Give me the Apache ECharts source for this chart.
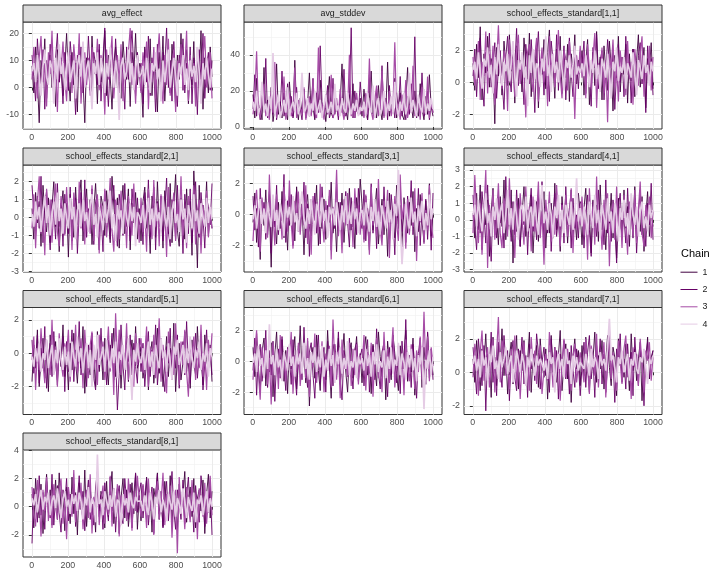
<!DOCTYPE html>
<html><head><meta charset="utf-8">
<script src="https://cdn.jsdelivr.net/npm/echarts@6/dist/echarts.min.js"></script>
<style>html,body{margin:0;padding:0;background:#fff}#c{width:720px;height:576px}</style>
</head><body><div id="c"></div>
<script>
const params = ['avg_effect','avg_stddev','school_effects_standard[1,1]','school_effects_standard[2,1]','school_effects_standard[3,1]','school_effects_standard[4,1]','school_effects_standard[5,1]','school_effects_standard[6,1]','school_effects_standard[7,1]','school_effects_standard[8,1]'];
const chains = ['1','2','3','4'];

const avg_effect = [
[8,-2,15,3,-13,10,5,18,-4,9,12,0,6,-7,14,2,11,-3,7,20,4,-5,13,1,9,-9,16,6,3,-13,11,8,-1,19,5,10,-6,14,2,7,21,-3,12,4,-8,9,15,0,6,-4,17,8,3,11,-7,13,5,20,1,9,
 4,-11,15,7,0,18,-3,10,6,-9,13,2,19,-5,8,11,-2,16,5,-7,12,3,20,-1,9,14,-6,7,1,17,-4,10,5,21,-8,11,6,-2,15,4],
[12,4,-5,18,7,1,14,-8,10,3,16,6,-3,11,20,2,8,-6,13,5,-1,17,9,4,-10,12,7,15,-2,10,3,19,6,-4,13,8,1,16,-5,11,22,4,-7,9,14,2,18,6,-2,10,5,-8,15,3,12,21,7,-3,13,6,
 9,-6,14,2,19,-3,11,6,-9,16,4,-1,13,8,22,0,10,-5,17,3,-7,12,7,18,-2,9,1,15,-6,11,5,-10,14,3,20,-4,8,13,-1,10],
[3,15,7,-4,11,19,2,9,-7,13,5,21,0,8,-9,14,6,17,3,-5,10,12,-2,16,7,4,20,-6,9,13,1,11,-3,15,8,5,18,-1,12,6,-10,14,3,10,19,-4,7,12,2,16,-5,9,4,13,22,1,8,-6,11,5,
 -2,13,6,17,-8,9,2,15,-4,11,20,5,-6,12,1,18,-3,8,14,-9,10,4,16,-1,7,21,-5,12,3,9,-7,15,6,-2,11,19,0,8,13,-4],
[6,9,2,12,5,-3,8,14,4,1,10,7,-6,11,3,16,5,9,-1,7,13,2,6,10,-4,8,12,4,17,0,7,10,3,-8,9,5,13,1,11,6,-2,9,4,15,7,0,10,5,-12,8,11,3,6,14,2,9,-1,7,12,4,
 5,8,1,11,4,-2,9,6,13,3,7,-5,10,2,8,14,0,6,11,4,-3,9,5,12,1,7,-1,10,4,8,2,15,6,-6,9,3,11,5,0,7]];
const avg_stddev = [
[18,5,27,8,12,4,33,9,15,6,22,3,11,35,7,14,5,19,9,4,25,12,6,37,10,4,16,8,21,5,13,30,7,11,4,17,9,26,6,12,3,15,28,8,5,20,10,6,14,35,7,11,4,18,9,24,5,13,8,16,
 6,21,9,4,16,31,7,12,5,23,10,4,18,8,36,6,13,9,27,5,11,19,7,4,15,33,8,12,5,20,9,6,24,10,4,17,7,29,11,6],
[10,29,6,14,4,20,9,38,5,12,18,7,26,4,15,9,31,6,11,24,8,17,5,13,22,7,10,4,19,9,16,6,12,27,5,19,8,45,14,6,11,23,5,9,27,7,13,4,18,8,32,6,10,17,55,5,20,9,7,25,
 12,6,18,4,29,9,14,5,21,7,11,34,6,16,4,23,8,13,5,19,9,28,6,12,4,17,7,24,10,50,5,15,8,30,6,11,20,4,13,8],
[7,16,42,9,5,13,24,6,11,4,20,8,36,5,14,10,7,28,4,12,19,6,9,33,5,15,11,7,22,4,10,17,6,26,9,5,44,8,13,4,18,7,11,29,5,9,16,6,21,10,4,14,8,40,6,12,5,19,9,7,
 12,5,19,7,38,9,4,15,23,6,10,31,5,14,8,20,6,11,47,7,13,4,18,9,26,5,12,8,34,6,10,16,4,22,9,7,28,5,14,8],
[14,9,20,7,11,25,8,13,6,17,10,41,7,12,18,5,9,15,8,22,6,11,14,9,19,7,12,30,8,10,16,6,13,9,20,7,11,15,5,12,18,8,10,14,7,24,9,12,6,16,10,8,19,11,7,13,9,15,6,11,
 9,14,6,19,11,8,23,5,12,16,7,10,20,6,13,9,17,8,25,11,6,14,9,19,7,12,30,8,15,10,6,18,11,8,21,7,13,9,16,10]];
const school_1 = [
[1.2,-0.5,2.4,0.3,3.5,-1.1,1.8,0.6,2.9,-0.3,1.5,0.9,-2.6,2.2,0.4,1.7,-0.8,2.6,1.0,-0.2,3.0,0.7,1.9,-1.3,2.3,0.1,1.4,-0.6,2.8,1.1,0.2,3.1,-0.9,1.6,0.8,2.5,-1.6,1.3,0.5,2.7,-0.4,1.9,3.3,0.0,1.2,-1.0,2.1,0.6,2.9,-0.7,1.5,0.3,2.4,-1.2,1.8,0.9,3.0,-0.1,1.4,0.7,
 2.0,-0.8,1.3,2.7,-1.4,0.6,1.9,-0.2,3.2,0.4,1.6,-1.1,2.3,0.8,-0.5,2.6,1.0,-1.8,1.7,0.3,2.9,-0.6,1.2,0.5,2.4,-1.3,1.8,0.1,2.1,-0.9,1.4,3.0,-0.3,0.9,2.2,-1.6,1.5,0.7,2.5,-0.4],
[0.4,2.1,-0.9,1.5,2.8,0.2,-1.5,1.9,0.7,3.1,-0.3,1.2,2.5,-1.0,0.9,2.0,0.1,-1.7,1.6,2.9,0.5,-0.6,2.2,1.0,3.4,-0.2,1.3,0.6,-1.4,2.4,1.1,-0.1,2.7,0.8,-1.9,1.5,3.2,0.3,1.8,-0.8,2.0,0.9,-1.2,2.6,1.4,0.0,3.0,-0.5,1.7,0.4,2.3,-1.1,1.0,2.8,0.6,-0.9,2.1,1.3,-0.4,1.9,
 1.1,2.6,-0.7,1.8,0.3,-1.5,2.2,0.9,3.0,-0.4,1.4,2.0,-1.1,0.6,2.7,1.2,-0.2,1.9,-1.7,0.8,2.4,0.0,1.6,-0.9,2.9,0.5,1.3,-1.3,2.1,0.7,-0.5,1.7,2.5,-0.1,1.0,-1.9,2.3,0.4,1.5,-0.8],
[1.6,-0.2,0.9,2.6,-1.1,1.3,0.4,3.2,-0.7,1.8,0.2,2.3,-1.4,1.1,3.6,0.6,-0.4,2.0,1.4,-1.8,2.7,0.8,1.5,-0.9,2.1,3.0,-0.1,1.2,0.5,-2.2,1.9,2.4,0.3,-0.6,1.6,2.8,-1.2,0.9,2.2,0.0,1.4,-1.5,2.9,0.7,1.8,-0.3,1.1,3.3,0.4,-1.0,2.0,1.5,-0.5,2.6,0.8,1.2,-2.3,1.7,0.5,2.3,
 0.3,1.9,-1.0,2.4,0.8,-0.4,1.6,3.1,-1.6,1.2,0.5,2.2,-0.7,1.4,-2.5,1.8,0.9,2.7,-0.3,1.1,-1.2,2.0,0.6,1.5,-0.8,2.6,0.2,1.3,-1.4,2.1,0.7,-0.2,1.7,2.9,-0.9,1.0,0.4,2.3,-0.5,1.6],
[0.8,1.3,0.2,1.9,0.6,-0.4,1.5,1.0,2.2,0.3,1.1,-0.7,1.6,0.5,2.4,0.9,-0.2,1.3,0.7,1.8,0.1,1.2,2.6,0.4,-0.9,1.4,0.8,1.9,0.3,1.0,-1.5,1.7,0.6,2.1,0.2,1.2,0.9,-0.3,1.5,0.7,2.9,0.4,1.1,-0.6,1.8,0.6,1.3,0.0,2.0,0.8,-0.5,1.4,0.9,1.7,0.3,1.1,2.3,0.5,1.0,0.6,
 1.2,0.4,1.7,0.8,-0.3,1.4,0.6,2.0,0.2,1.1,-0.6,1.5,0.9,0.3,1.8,0.5,-1.0,1.3,0.7,2.2,0.1,1.0,0.6,1.6,-0.4,1.2,0.8,0.3,1.9,0.5,-0.8,1.4,0.9,0.2,1.7,0.6,1.1,-0.2,1.3,0.7]];
const school_2 = [
[0.5,-1.2,1.4,-0.3,0.9,-1.6,1.8,0.2,-0.8,1.1,-1.4,0.6,2.0,-0.5,1.2,-1.9,0.4,1.5,-0.9,0.8,-2.2,1.3,0.1,-1.1,1.7,-0.4,0.9,2.1,-1.3,0.3,1.6,-0.7,1.0,-1.5,0.5,1.9,-0.2,-1.8,1.2,0.6,-1.0,1.5,0.0,-1.4,2.3,0.7,-0.6,1.1,-1.7,0.4,1.8,-0.9,0.2,1.6,-1.8,0.8,-0.3,1.4,-1.2,0.5,
 -1.3,0.9,1.7,-0.6,0.3,-2.0,1.2,0.5,-1.1,2.0,-0.4,0.8,-1.7,1.5,0.1,-0.9,1.9,-1.4,0.6,2.4,-0.7,-1.6,1.1,0.2,-1.2,1.6,-0.3,0.9,-2.1,2.6,0.4,-2.8,1.8,-1.5,0.7,-0.2,2.0,-1.0,0.5,-0.6],
[1.8,0.3,-1.0,1.2,-0.6,2.3,-1.4,0.7,1.5,-0.2,-1.8,1.0,0.4,-1.2,1.9,-0.5,0.8,-1.6,1.3,0.1,-0.9,1.7,-1.3,0.6,1.1,-2.0,0.2,1.4,-0.7,2.1,-1.1,0.5,-0.3,1.6,-1.5,0.9,1.2,-0.8,0.3,-1.9,1.5,0.0,1.0,-1.2,0.7,1.8,-0.4,-1.6,1.3,0.4,-1.0,1.9,-0.5,0.8,-1.3,1.6,0.2,-0.9,1.1,-0.4,
 0.6,-1.5,1.4,-0.3,2.1,-1.1,0.2,1.7,-1.8,0.9,-0.5,1.2,-1.3,0.4,2.2,-0.8,-1.6,1.0,0.3,-1.2,1.8,-0.6,0.7,-2.0,1.3,0.1,-0.9,1.6,-1.4,0.5,2.0,-0.7,-1.1,1.4,0.0,-1.7,1.1,0.6,-0.4,1.9],
[-0.6,1.3,-1.7,0.8,2.3,-0.9,0.4,-2.1,1.6,-0.3,1.0,-1.4,0.6,1.9,-0.8,-1.6,1.2,0.2,-1.0,1.7,-0.4,0.9,-1.8,1.4,0.3,-1.2,2.0,-0.6,0.7,-1.5,1.1,0.0,-0.9,1.8,-1.3,0.5,1.3,-2.0,0.8,-0.5,1.6,-1.1,0.3,2.2,-0.7,-1.9,1.0,0.4,-1.2,1.5,-0.3,0.7,-1.7,1.2,0.1,-1.0,1.9,-0.6,0.5,-1.4,
 1.1,-0.8,0.4,-1.9,1.6,0.2,-1.2,2.1,-0.5,0.8,-1.6,1.3,-0.2,0.6,-2.2,1.7,-0.9,0.3,1.4,-1.3,0.9,-0.4,2.3,-1.0,0.5,-1.7,1.2,0.0,-0.7,1.8,-1.5,0.4,1.0,-2.0,0.7,-0.3,1.5,-1.1,0.2,-0.6],
[0.2,-0.5,0.9,-0.1,0.6,-0.8,0.4,1.2,-0.3,0.7,-1.0,0.3,0.9,-0.4,1.4,-0.2,0.5,-0.9,0.8,0.0,-0.6,1.1,-0.1,0.6,-1.2,0.4,0.8,-0.5,1.0,-0.2,0.3,-0.8,0.7,1.3,-0.4,0.2,-1.1,0.6,0.1,-0.7,0.9,-0.3,0.5,1.5,-0.6,0.2,-1.3,0.7,-0.1,0.4,-0.9,1.0,0.0,-0.5,0.8,-0.2,0.6,-1.6,0.3,0.1,
 -0.3,0.7,-0.6,0.2,1.1,-0.4,0.5,-1.0,0.8,-0.2,0.3,-0.7,1.2,0.0,-0.5,0.6,-1.2,0.4,0.9,-0.3,0.2,-0.8,1.0,-0.1,0.5,-1.4,0.7,0.1,-0.6,1.3,-0.2,0.4,-0.9,0.8,0.0,-0.5,1.1,-0.3,0.6,-0.1]];
const school_3 = [
[-0.5,1.4,-1.8,0.3,-2.9,0.9,-0.7,1.6,-1.3,0.2,-3.4,1.1,-0.4,-1.9,0.8,-0.9,1.5,-1.5,0.1,-2.3,1.2,-0.6,0.5,-1.7,1.8,-0.2,-1.1,0.7,-2.6,0.4,1.3,-0.8,-1.4,0.9,-0.3,1.9,-2.0,0.2,-0.9,1.0,-1.6,0.6,-0.5,2.1,-1.2,0.0,-2.4,0.8,-0.7,1.4,-1.8,0.3,-0.4,1.7,-1.0,0.5,-2.2,1.1,-0.6,2.3,
 0.7,-1.6,1.2,-0.5,-2.3,0.9,-1.0,0.3,1.7,-1.9,-0.2,1.0,-1.3,0.5,-2.7,1.4,-0.6,0.2,-1.5,1.9,-0.9,0.6,-2.1,1.1,-0.3,-1.2,0.8,-0.7,1.5,-2.4,0.4,-1.1,1.3,-0.4,-1.8,0.9,-0.8,2.0,-1.4,0.1],
[1.2,-1.0,0.4,-2.1,1.7,-0.5,0.8,-1.6,0.2,1.5,-2.5,0.6,-0.8,1.9,-1.3,0.3,-0.4,2.6,-1.8,0.9,-0.7,1.3,-2.0,0.1,1.6,-1.1,0.5,-0.3,2.1,-1.5,0.7,-2.7,1.0,-0.6,1.4,-1.2,0.3,-1.9,1.8,-0.2,0.6,-1.4,1.2,-2.3,0.4,-0.9,2.0,-1.0,0.8,-1.7,0.2,1.5,-0.5,-2.1,1.1,-0.8,0.5,-1.3,1.7,-0.4,
 -0.9,1.6,-1.7,0.4,-0.5,2.0,-1.2,0.7,-2.2,1.1,-0.3,-1.5,1.8,-0.8,0.5,-1.9,1.3,-0.1,-2.6,0.9,-0.6,1.5,-1.1,0.2,-1.8,1.2,-0.4,2.2,-1.3,0.6,-0.9,1.7,-2.0,0.3,-0.7,1.0,-1.6,0.8,-2.3,1.4],
[-1.7,0.5,1.6,-0.8,-2.4,1.1,-0.3,0.7,-1.5,2.6,-0.6,0.2,-2.0,1.3,-0.9,0.4,-1.6,1.8,0.0,-1.1,2.2,-0.5,-2.2,0.9,-0.2,1.5,-1.3,0.6,-0.7,1.9,-1.9,0.3,-2.6,1.2,-0.4,0.8,-1.2,2.0,-0.1,-1.8,0.9,-0.6,1.6,-2.9,0.5,-0.3,2.9,-1.4,0.1,-2.5,1.0,-0.7,1.4,-1.0,0.4,-2.1,1.7,-0.5,0.6,-1.3,
 0.4,-1.8,1.3,-0.2,-2.6,1.8,-0.7,0.5,-1.4,2.3,-0.9,-2.0,0.9,-0.4,1.6,-2.8,0.2,-1.1,1.2,-0.6,-1.7,2.6,-0.3,0.7,-2.2,1.0,-1.3,0.4,-0.8,1.7,-3.0,0.6,-0.5,1.4,-1.9,0.3,-1.0,1.9,-0.6,-1.5],
[-0.3,0.6,-0.9,0.2,1.0,-0.6,0.4,-1.2,0.8,-0.1,-0.8,1.3,-0.4,0.3,-1.0,0.7,0.0,-1.4,0.9,-0.2,0.5,-0.7,1.2,-0.5,0.1,-1.1,0.6,1.5,-0.3,-0.9,0.4,-0.6,1.0,-0.2,-1.3,0.7,0.2,-0.8,1.1,-0.4,0.3,-1.5,0.5,0.0,0.4,-0.7,0.8,-0.1,-1.0,0.6,-0.5,1.2,-0.6,0.2,-0.6,0.9,-0.3,0.4,-1.2,0.1,
 0.3,-0.7,0.8,-0.3,-1.1,0.5,-0.4,1.0,-0.8,0.2,-1.3,0.6,-0.2,-0.9,0.9,-0.5,0.3,-1.6,0.7,-0.1,2.9,-0.6,-3.2,-1.2,0.8,-0.3,-0.9,1.1,-0.5,0.2,-1.4,0.6,-0.4,0.9,-1.0,0.1,-0.7,1.3,-0.3,0.4]];
const school_4 = [
[0.4,-1.1,1.6,-0.6,2.1,-1.8,0.8,-0.3,1.2,-2.2,0.5,1.9,-0.9,0.2,-1.5,1.4,-0.4,2.4,-1.2,0.7,-0.1,1.8,-2.6,0.9,-0.7,1.3,-1.6,0.3,2.0,-1.0,0.6,-0.5,1.5,-2.0,0.1,1.1,-1.3,0.8,-0.2,1.7,-1.7,0.4,-0.8,1.0,-1.1,2.2,-0.6,0.3,-1.9,1.4,-0.4,0.9,-1.4,0.5,1.8,-0.9,0.2,-1.2,1.6,0.4,
 -1.5,0.7,1.9,-0.8,0.3,-2.0,1.2,-0.4,0.9,-1.3,2.1,-0.6,0.5,-1.8,1.0,-0.2,1.6,-1.1,0.4,-2.3,1.3,0.0,-0.9,1.8,-0.5,0.8,-1.6,1.1,-0.3,2.0,-1.2,0.6,-0.7,1.4,-1.9,0.2,1.7,-1.0,0.5,-0.4],
[1.5,-0.4,-1.8,0.9,-0.8,1.7,0.2,-1.4,2.1,-0.5,-2.5,1.0,0.4,-1.1,1.4,-0.2,0.8,-1.7,2.6,-0.6,0.3,-1.3,1.1,-0.9,1.8,0.0,-1.6,0.7,-0.3,1.3,-2.1,0.6,1.9,-0.7,0.2,-1.2,1.5,-0.4,2.3,-1.5,0.5,-0.8,1.2,-1.9,0.4,1.6,-1.0,0.1,-0.6,1.0,-1.4,2.0,-0.3,0.7,-1.7,1.3,-0.5,0.3,-1.1,1.1,
 0.9,-1.7,0.4,1.5,-0.6,-2.2,1.1,0.2,-1.0,1.8,-0.4,0.7,-1.5,2.4,-0.8,0.3,-1.3,1.2,-0.2,-2.6,0.8,1.6,-0.7,0.1,-1.4,1.9,-0.5,0.6,-1.1,1.3,-2.0,0.4,1.7,-0.9,0.2,-1.6,1.0,-0.3,2.2,-1.2],
[-0.8,2.7,0.3,-1.4,1.0,-2.1,0.6,3.0,-2.9,0.9,-0.5,1.8,-1.2,0.2,2.2,-0.8,-1.7,1.3,0.4,-1.0,2.5,-0.3,0.7,-2.3,1.1,-0.6,1.6,0.0,-1.5,2.0,-0.4,0.8,-1.9,1.4,-0.7,0.3,2.3,-1.1,0.5,-2.7,1.2,-0.2,1.7,-1.3,0.6,-0.9,2.1,0.1,-1.6,0.9,-0.4,1.5,-1.0,0.3,1.9,-2.0,0.7,-0.6,1.0,-0.3,
 1.4,-0.9,0.6,-2.4,1.9,-0.3,0.8,-1.5,2.6,-0.7,0.2,-1.8,1.2,-0.5,1.6,-2.8,0.5,1.0,-1.2,2.0,-0.4,0.7,-1.7,1.5,-0.1,-2.1,1.1,0.3,-0.9,1.8,-1.4,0.6,2.3,-0.8,-1.6,0.9,0.0,1.4,-1.1,0.5],
[0.3,0.9,-0.4,1.2,0.1,-0.7,0.6,1.6,-0.2,0.4,-1.0,0.8,0.0,1.3,-0.5,0.5,1.0,-0.8,0.3,1.8,-0.3,0.7,-0.6,1.1,0.2,-1.2,0.6,0.9,-0.1,1.4,-0.7,0.4,0.8,-0.4,1.2,0.0,-0.9,0.7,2.1,-0.2,0.5,-0.6,1.0,0.3,-1.1,0.8,0.1,1.5,-0.4,0.6,-0.8,0.9,0.2,-0.3,1.1,-0.6,0.4,2.5,-0.1,0.7,
 -0.4,0.8,0.1,-0.9,1.1,0.3,-0.5,1.5,-0.2,0.6,-1.1,0.9,0.2,-0.6,1.3,-0.1,0.5,-0.8,1.0,0.2,-1.3,0.7,0.0,1.2,-0.4,0.4,-0.9,1.6,0.3,-0.3,0.8,-1.0,0.5,1.1,-0.5,0.2,-0.7,0.9,0.1,0.6]];
const school_5 = [
[-1.7,0.5,-0.9,1.4,-2.0,-0.3,0.9,-1.5,0.2,-2.3,1.1,-0.6,-1.2,0.7,-1.9,0.3,-0.8,1.7,-1.4,-0.1,-2.2,0.6,-1.0,1.2,-0.5,-1.8,0.4,-0.9,1.6,-2.4,0.1,-0.7,-1.3,0.8,-0.4,-2.0,1.3,-1.1,0.2,-1.6,0.9,-0.6,-1.9,0.5,-0.2,1.5,-1.4,-0.8,0.6,-2.1,0.3,-0.5,1.0,-1.7,-0.3,0.8,-1.2,1.6,-0.9,-0.4,
 0.4,-1.5,-0.6,1.2,-2.2,-0.1,0.7,-1.8,-0.4,1.5,-1.2,0.2,-2.0,-0.7,1.0,-1.4,0.3,-0.9,1.8,-2.3,-0.2,0.6,-1.6,-0.5,1.3,-1.1,0.1,-2.1,0.8,-0.6,-1.3,1.6,-0.8,-0.1,-1.9,1.1,-0.4,-1.0,0.5,-1.7],
[0.8,-1.2,-0.4,1.1,-1.8,0.3,-0.9,1.6,-2.1,-0.2,0.6,-1.4,1.3,-0.7,-1.6,0.4,-0.3,1.0,-2.3,0.7,-1.1,-0.5,1.4,-1.7,0.2,-0.8,1.9,-1.3,-0.1,0.9,-2.0,0.5,-0.6,1.2,-1.5,-2.2,0.3,-0.9,1.5,-1.0,0.1,-1.9,0.8,-0.4,1.2,-1.6,-0.2,-3.4,-1.2,1.7,-0.7,-2.2,0.4,-0.5,1.1,-1.3,0.6,-0.8,-1.8,0.9,
 -1.1,0.6,-2.0,-0.3,1.3,-1.4,0.2,-0.8,1.7,-1.9,-0.5,0.9,-1.2,-2.3,0.4,-0.6,1.5,-1.6,0.0,-0.9,1.1,-2.1,-0.2,0.7,-1.3,1.9,-0.7,-1.8,0.3,-0.4,1.2,-1.5,-0.1,0.8,-2.2,-0.6,1.4,-1.0,0.2,-1.3],
[-0.4,1.0,-2.2,0.3,-1.0,1.5,-0.6,-1.8,0.8,-0.2,-1.3,2.0,-0.9,0.4,-2.0,1.2,-0.5,-1.4,0.6,-0.1,1.4,-1.7,0.2,-0.8,1.7,-1.2,-0.3,0.9,-2.1,1.4,-0.7,-1.5,0.5,1.3,-1.0,0.0,-1.9,1.1,-0.4,0.7,-1.6,-0.2,1.6,-1.1,0.3,-2.5,2.4,-0.6,1.4,-1.3,0.1,-0.9,1.8,-1.6,0.5,-0.3,-2.0,1.2,-0.7,0.2,
 0.9,-1.2,-0.3,1.6,-2.0,0.4,-0.8,1.1,-1.5,-0.1,2.1,-1.7,0.5,-0.6,-2.4,1.3,-0.9,0.2,-1.3,1.8,-0.4,-1.9,0.7,-0.7,1.4,-1.1,-2.6,0.6,-0.2,1.0,-1.6,0.3,-0.9,1.7,-1.4,0.1,-2.2,0.8,-0.5,1.2],
[-0.2,-0.8,0.3,-0.5,0.6,-1.1,0.0,-0.4,0.8,-0.9,-0.1,0.5,-1.3,0.2,-0.6,0.9,-0.3,-1.0,0.4,-0.7,0.1,-1.4,0.7,-0.2,-0.8,1.0,-0.5,0.3,-1.2,-0.1,0.6,-0.9,0.2,-2.0,0.5,-0.4,1.1,-0.7,-0.2,0.4,-1.1,0.8,-0.3,-0.9,0.3,-0.6,0.7,-1.5,0.1,-0.4,0.5,-1.0,-0.2,0.9,-0.7,-2.8,0.2,-0.5,0.6,-0.3,
 -0.6,0.3,-1.0,-0.2,0.7,-0.8,0.1,-1.3,0.5,-0.4,-0.9,0.9,-0.3,0.2,-1.1,0.6,-0.5,-1.6,0.4,-0.1,0.8,-0.7,-0.2,0.5,-1.2,0.3,-0.6,1.0,-0.4,-0.9,0.2,-0.3,0.7,-1.0,0.0,-0.5,0.6,-1.4,0.3,-0.2]];
const school_6 = [
[0.9,-1.0,1.8,-0.4,-2.0,0.6,1.5,-1.6,0.2,-0.7,1.2,-2.3,0.4,1.9,-0.9,-0.2,1.4,-1.3,0.7,-2.1,1.0,-0.5,0.3,1.6,-1.8,-0.1,2.3,-0.8,0.5,-1.4,1.3,-2.9,0.1,0.9,-1.1,1.7,-0.6,-1.9,0.8,0.2,-1.2,2.0,-0.4,-2.4,1.1,0.4,-0.9,1.5,-1.5,0.0,1.8,-0.7,-2.0,0.6,1.2,-1.1,0.3,1.6,-0.8,0.5,
 -1.4,0.7,1.6,-0.9,0.2,-2.1,1.1,-0.4,-1.6,1.9,0.3,-1.0,0.8,-2.5,1.3,-0.2,-1.2,1.7,0.5,-0.8,-1.9,1.0,-0.5,0.4,2.0,-1.3,0.1,-0.7,1.5,-2.2,0.6,-0.3,1.2,-1.7,0.9,-0.6,1.8,-1.1,0.3,-0.9],
[-0.6,1.5,-2.2,0.4,1.1,-1.3,-0.2,2.0,-1.7,0.7,-0.9,1.3,-2.6,0.1,0.8,-1.1,1.6,-0.4,-1.9,0.9,0.3,-1.5,1.4,-0.7,-2.2,1.0,0.2,-1.2,2.2,-0.5,-1.7,0.6,1.2,-0.9,-2.4,0.4,1.7,-1.4,-0.1,0.9,-2.0,1.3,-0.6,0.2,-1.6,1.1,-0.3,1.9,-1.2,-2.5,0.7,0.0,-1.0,1.5,-0.4,-1.8,0.8,1.2,-1.3,0.3,
 0.8,-1.6,0.3,1.4,-2.0,-0.2,1.0,-1.2,2.1,-0.7,-1.8,0.6,1.2,-0.4,-2.3,0.9,-0.9,1.6,0.1,-1.4,0.7,-2.1,1.3,-0.5,2.7,-1.0,0.4,-1.7,1.1,-0.3,-2.4,0.5,1.5,-0.8,0.0,-1.5,1.9,-0.6,0.8,-1.2],
[-1.2,0.6,2.0,-0.8,-2.5,0.9,-0.3,1.4,-1.5,0.2,-2.8,1.1,-0.5,0.5,-1.8,1.7,-0.9,0.3,-1.3,0.8,-0.1,1.9,-2.1,0.4,-0.7,1.2,-1.6,0.0,0.9,-1.1,1.5,-2.3,0.6,-0.4,1.8,-1.4,0.2,-0.8,1.3,-2.0,0.5,-0.6,1.0,-1.7,2.7,-0.2,-1.2,0.7,-2.4,1.4,-0.5,0.3,-1.0,1.2,-1.6,0.8,-0.9,1.1,-1.5,0.4,
 -0.5,1.7,-1.9,0.6,-0.8,1.2,-2.3,0.3,1.5,-1.1,0.0,-2.0,1.9,-0.6,0.8,-1.4,0.4,2.2,-1.7,-0.2,1.0,-0.9,0.5,-2.2,1.4,-0.4,-1.3,1.1,0.2,-1.8,0.7,-0.7,1.6,-1.2,3.2,-0.5,1.6,-1.3,0.9,-0.3],
[-0.1,0.5,-0.7,1.0,-0.3,0.2,-1.1,0.7,-0.5,2.4,-0.2,0.4,-0.9,0.8,-0.4,0.1,-1.3,0.6,0.0,-0.6,1.1,-0.3,0.3,-1.0,0.7,-0.2,0.5,-0.8,1.2,-0.5,0.2,-1.2,0.6,-0.1,0.9,-0.7,0.3,-0.4,1.0,-1.0,0.1,-0.6,0.8,-0.3,0.4,-1.4,0.6,-0.2,0.9,-0.8,0.2,-0.5,1.3,-0.9,0.0,-0.4,0.7,-1.1,0.3,-0.2,
 0.2,-0.6,0.8,-0.3,0.4,-1.0,0.6,-0.2,1.1,-0.7,0.0,-0.4,0.7,-1.1,0.3,-0.5,0.9,-0.8,0.1,-0.3,1.2,-0.9,0.5,-0.1,-1.2,0.6,-0.4,0.8,-0.6,0.2,-1.3,0.4,-0.2,0.9,-3.1,0.1,-0.5,0.7,-0.9,0.3]];
const school_7 = [
[0.8,-0.6,1.9,0.2,-1.1,1.4,0.5,2.3,-0.4,1.0,-1.5,2.1,0.3,-0.8,1.7,0.6,2.6,-0.2,1.2,-1.3,0.9,1.8,-0.7,0.4,2.2,-1.0,1.3,0.1,1.9,-0.5,0.7,2.4,-1.2,1.1,0.3,1.6,-0.9,2.0,0.5,-0.3,1.4,-1.6,0.8,2.2,0.0,1.5,-0.6,1.0,2.5,-1.1,0.6,1.7,-0.4,1.2,-1.8,0.9,2.0,0.2,1.3,-0.8,
 1.6,-0.2,2.1,0.5,-1.2,1.3,0.8,2.4,-0.6,1.0,0.2,1.9,-1.0,0.7,2.2,0.3,-0.8,1.5,0.9,-1.4,2.0,0.4,1.2,-0.3,1.7,0.6,-1.1,2.3,0.1,1.4,-0.5,0.8,1.8,-1.7,1.1,0.5,2.1,-0.4,0.9,1.3],
[1.5,0.2,-1.3,2.0,0.7,-0.8,1.6,-2.3,1.1,0.4,2.4,-0.6,0.9,-1.4,1.8,0.3,-0.9,2.2,0.6,1.3,-1.7,0.8,1.9,-0.3,-1.1,1.4,0.5,2.1,-0.7,1.0,-1.5,1.7,0.2,0.9,-0.5,2.3,1.2,-1.0,0.6,1.5,-0.2,0.8,-1.2,2.0,0.4,-0.8,1.3,-1.6,1.1,0.3,1.9,-0.4,0.7,-1.3,1.6,0.1,-0.9,1.4,0.5,-1.4,
 0.3,1.8,-0.9,1.2,2.2,-0.4,0.7,-1.5,1.6,0.2,2.0,-0.7,1.1,-1.2,0.5,1.9,-0.2,0.9,-1.8,1.4,0.6,2.3,-0.6,0.8,-1.0,1.7,0.0,1.2,-1.4,2.1,0.4,-0.8,1.5,0.7,-2.0,1.0,1.8,-0.3,0.6,1.3],
[-0.3,1.7,0.9,-1.4,1.2,2.5,-0.5,0.8,1.5,-0.9,0.3,2.0,-1.2,1.1,3.3,-0.6,1.9,1.3,-0.2,0.7,-1.0,1.4,0.2,2.2,-0.8,1.0,-1.6,0.6,1.8,-0.1,0.9,-1.1,2.1,0.4,1.3,-0.7,0.8,1.6,-1.3,0.2,1.1,-0.5,2.4,0.7,-0.9,1.5,0.0,1.2,-1.7,0.6,2.0,-0.3,1.4,0.3,-1.1,0.9,1.7,-0.6,0.4,1.2,
 1.3,-0.6,2.0,0.4,-1.3,1.6,0.8,-0.2,2.3,-0.9,1.0,0.5,1.8,-1.5,0.7,2.6,-0.4,1.2,0.1,-1.1,1.9,0.6,-0.7,1.4,2.2,-0.3,0.9,-1.6,1.5,0.3,1.1,-0.8,2.0,0.5,-1.2,1.3,0.7,1.8,-0.5,0.9],
[0.5,1.0,0.1,0.8,-0.3,1.3,0.4,0.9,-0.5,1.1,0.6,1.6,0.2,0.7,-0.4,1.2,0.3,0.8,1.5,-0.1,0.6,1.0,-0.6,0.4,1.3,0.7,0.0,1.1,0.5,-0.8,0.9,0.3,1.4,0.6,-0.2,1.0,0.4,0.8,0.5,0.1,0.7,-0.4,1.2,0.5,0.9,-1.2,0.6,1.1,0.2,0.8,-0.3,1.4,0.5,0.7,-0.7,1.0,0.3,0.9,0.1,0.6,
 0.7,0.2,1.1,0.5,-0.2,1.4,0.3,0.9,0.6,-0.4,1.2,0.4,0.8,0.1,1.5,3.2,0.7,1.0,0.3,-0.6,0.9,0.5,1.3,0.0,0.6,1.1,-0.5,0.8,0.4,1.2,0.2,-0.1,0.9,0.6,1.4,0.3,-0.7,0.8,0.5,1.0]];
const school_8 = [
[0.9,-1.5,2.0,0.3,-0.8,1.6,-1.9,0.6,2.3,-0.4,1.2,-1.3,0.1,1.9,-0.9,2.4,-0.2,0.8,-1.7,1.4,0.4,-1.2,2.1,-0.5,1.0,-2.0,1.7,0.2,-0.9,2.6,-1.4,0.7,1.5,-0.6,0.3,-1.8,2.2,-0.3,1.1,0.5,-1.5,1.8,-0.7,0.9,2.5,-1.2,0.4,1.3,-1.9,0.6,2.0,-0.8,1.2,-1.4,0.1,1.7,-0.5,2.3,-1.6,0.8,
 -1.0,1.5,0.2,2.1,-0.6,0.9,-1.8,1.3,0.4,2.4,-0.9,0.7,-1.4,1.8,0.1,-0.5,2.2,-1.2,1.0,0.3,-1.7,1.6,-0.2,0.8,2.5,-1.1,0.5,1.4,-0.7,2.0,-1.5,0.6,1.2,-0.3,1.9,-1.9,0.9,2.3,-0.8,1.1],
[-2.6,1.3,0.4,-1.1,2.2,-0.6,1.0,-1.6,1.8,0.2,-0.8,2.3,-1.3,0.7,1.5,-0.4,-1.8,1.2,0.3,2.0,-1.0,0.9,-0.5,1.6,-1.4,0.5,2.2,-0.2,1.1,-1.7,0.6,1.9,-0.9,0.2,-1.3,1.4,2.5,-0.7,0.8,-1.6,1.7,0.1,-1.0,2.1,-0.3,1.3,-1.8,0.7,1.5,-0.6,-1.2,2.0,0.4,-0.9,1.6,-1.5,0.9,2.4,-0.4,1.0,
 1.7,-0.8,0.6,2.0,-1.3,0.3,1.4,-1.9,0.9,2.3,-0.5,1.1,-1.5,0.4,1.8,-1.0,0.7,2.5,-0.3,-1.6,1.2,0.2,-0.9,1.9,-1.2,0.8,2.1,-0.6,0.5,-1.8,1.5,0.0,-1.1,2.2,0.6,-1.4,1.0,-0.4,1.7,-2.0],
[1.4,-0.5,-1.4,1.9,0.6,-2.1,1.2,-0.3,2.1,-1.0,0.8,-1.5,1.6,0.0,-0.9,1.1,2.0,-1.2,0.5,-2.3,1.4,0.2,-0.7,2.6,-1.1,0.9,-0.2,1.7,-1.6,0.4,1.2,-0.8,2.3,-1.9,0.7,-0.4,1.8,-1.3,0.3,1.5,-1.2,0.6,-0.6,2.2,-1.4,1.0,-0.1,1.6,-2.1,0.8,-0.5,1.3,-1.0,2.0,0.3,-1.7,1.1,-0.3,2.2,0.5,
 -0.7,1.6,0.4,-1.5,2.0,-0.3,1.1,-2.0,0.7,1.8,-0.9,0.2,2.4,-1.3,0.9,-0.5,1.5,-2.2,0.6,1.2,-3.3,2.1,-0.2,0.5,-1.6,1.4,0.1,-1.1,1.9,-0.4,0.8,-2.3,1.3,0.3,-0.7,1.7,-1.2,0.6,2.2,-0.6],
[0.6,0.1,0.9,-0.4,0.5,1.2,-0.2,0.7,0.3,1.0,-0.6,0.4,0.8,-0.1,1.3,0.2,-0.8,0.6,1.1,0.0,0.5,-0.5,0.9,0.2,0.8,-0.3,1.0,0.4,-0.9,0.7,0.1,1.4,-0.4,0.6,0.3,-1.1,3.7,0.2,0.5,-0.6,1.1,0.4,-0.2,0.8,0.0,1.3,-0.7,0.5,0.3,-1.3,0.9,0.1,0.6,-0.4,1.0,0.2,-0.1,0.7,0.4,0.3,
 0.4,-0.3,0.8,0.1,-0.6,1.0,0.3,-0.9,0.7,0.2,1.2,-0.4,0.5,0.0,-1.0,0.9,0.3,-0.2,1.1,-0.7,0.6,0.2,-0.5,1.3,0.4,-0.8,0.7,0.1,-0.3,1.0,-1.1,0.5,0.2,0.8,-0.6,0.3,1.1,-0.4,0.6,0.0]];

const seriesData = [avg_effect, avg_stddev, school_1, school_2, school_3, school_4, school_5, school_6, school_7, school_8];

const xTicks = [0,200,400,600,800,1000];
const xMinorTicks = [100,300,500,700,900];
const xRange = [-48.95, 1049.95];
const yMin = [-15.3, -1.1, -2.93, -3.03, -3.71, -3.14, -3.67, -3.45, -2.52, -3.56];
const yMax = [24.2, 58.2, 3.8, 2.93, 3.21, 3.3, 2.74, 3.48, 3.87, 4.02];
const yTicks = [[-10,0,10,20],[0,20,40],[-2,0,2],[-3,-2,-1,0,1,2],[-2,0,2],[-3,-2,-1,0,1,2,3],[-2,0,2],[-2,0,2],[-2,0,2],[-2,0,2,4]];
const yMinorTicks = [[-15,-5,5,15],[10,30,50],[-1,1,3],[-2.5,-1.5,-0.5,0.5,1.5,2.5],[-3,-1,1,3],[-2.5,-1.5,-0.5,0.5,1.5,2.5],[-3,-1,1],[-3,-1,1,3],[-1,1,3],[-3,-1,1,3]];

const FONT = '"Liberation Sans", Arial, Helvetica, sans-serif';
const colors = ['#400040','#660066','#a64ca6','#e5cce5'];
const lineW = [0.9, 0.9, 1.2, 1.7];
const colLeft = [23, 244, 464], panelW = 198;
const stripTop = [5, 148, 290.5, 433], stripH = 17, panelH = 107;

const grid = [], xAxis = [], yAxis = [], series = [], graphic = [];
params.forEach((p, k) => {
  const r = Math.floor(k / 3), c = k % 3;
  const left = colLeft[c], top = stripTop[r] + stripH;
  grid.push({left: left, top: top, width: panelW, height: panelH, show: true,
    borderColor: '#333333', borderWidth: 1, backgroundColor: '#ffffff'});
  const lab = {color: '#4d4d4d', fontSize: 8.8, fontFamily: FONT, formatter: v => String(v)};
  xAxis.push({gridIndex: k, type: 'value', min: xRange[0], max: xRange[1],
    axisLine: {show: false},
    axisTick: {show: true, length: 3, lineStyle: {color: '#333333', width: 1}, customValues: xTicks},
    axisLabel: Object.assign({customValues: xTicks, margin: 4}, lab),
    splitLine: {show: true, lineStyle: {color: '#ebebeb', width: 1}}, z: 1});
  xAxis.push({gridIndex: k, type: 'value', min: xRange[0], max: xRange[1],
    axisLine: {show: false},
    axisTick: {show: false, customValues: xMinorTicks},
    axisLabel: {show: false},
    splitLine: {show: true, lineStyle: {color: '#f2f2f2', width: 0.7}}, z: 0});
  yAxis.push({gridIndex: k, type: 'value', min: yMin[k], max: yMax[k],
    axisLine: {show: false},
    axisTick: {show: true, length: 3, lineStyle: {color: '#333333', width: 1}, customValues: yTicks[k]},
    axisLabel: Object.assign({customValues: yTicks[k], margin: 4}, lab),
    splitLine: {show: true, lineStyle: {color: '#ebebeb', width: 1}}, z: 1});
  yAxis.push({gridIndex: k, type: 'value', min: yMin[k], max: yMax[k],
    axisLine: {show: false},
    axisTick: {show: false, customValues: yMinorTicks[k]},
    axisLabel: {show: false},
    splitLine: {show: true, lineStyle: {color: '#f2f2f2', width: 0.7}}, z: 0});
  seriesData[k].forEach((vals, ci) => {
    const n = vals.length;
    series.push({type: 'line', name: chains[ci], xAxisIndex: 2 * k, yAxisIndex: 2 * k,
      data: vals.map((v, i) => [1 + Math.round(i * 999 / (n - 1)), v]),
      showSymbol: false, symbol: 'none', silent: true, animation: false,
      lineStyle: {color: colors[ci], width: lineW[ci]}, itemStyle: {color: colors[ci]}});
  });
  graphic.push({type: 'rect', shape: {x: left, y: stripTop[r], width: panelW, height: stripH},
    style: {fill: '#d9d9d9', stroke: '#333333', lineWidth: 1}, z: 100});
  graphic.push({type: 'text', x: left + panelW / 2, y: stripTop[r] + stripH / 2 + 0.5,
    style: {text: p, fill: '#1a1a1a', fontSize: 8.8, fontFamily: FONT, align: 'center', verticalAlign: 'middle'}, z: 101});
});
graphic.push({type: 'text', x: 681, y: 254,
  style: {text: 'Chain', fill: '#000000', fontSize: 11, fontFamily: FONT, align: 'left', verticalAlign: 'middle'}});

const chart = echarts.init(document.getElementById('c'), null, {renderer: 'canvas'});
chart.setOption({
  backgroundColor: '#ffffff',
  animation: false,
  textStyle: {fontFamily: FONT},
  grid: grid, xAxis: xAxis, yAxis: yAxis, series: series, graphic: graphic,
  legend: {data: chains, orient: 'vertical', left: 680, top: 267.4, padding: 0, itemWidth: 17, itemHeight: 12, itemGap: 7.7,
    itemStyle: {opacity: 0}, lineStyle: {width: 1},
    textStyle: {fontSize: 8.8, color: '#1a1a1a', fontFamily: FONT}, selectedMode: false}
});
</script></body></html>
